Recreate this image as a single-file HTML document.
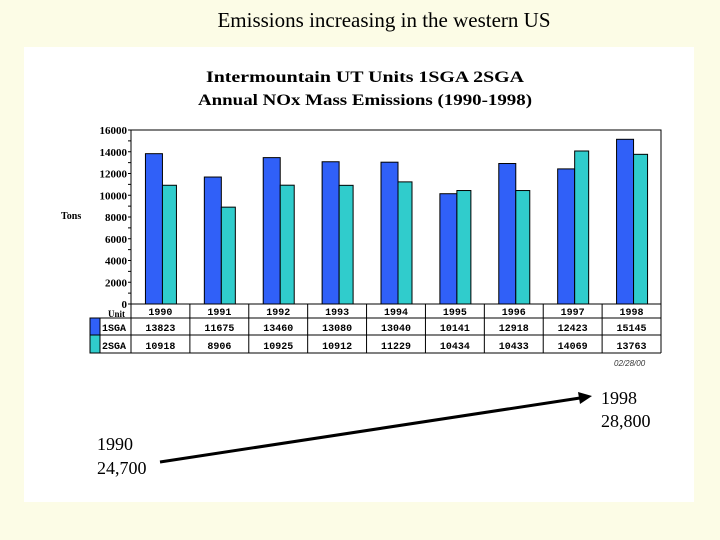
<!DOCTYPE html>
<html><head><meta charset="utf-8"><style>
html,body{margin:0;padding:0;width:720px;height:540px;background:#fcfce6;overflow:hidden}
svg{display:block}
</style></head><body>
<svg width="720" height="540" xmlns="http://www.w3.org/2000/svg">
<rect x="0" y="0" width="720" height="540" fill="#fcfce6"/>
<text x="384" y="27" text-anchor="middle" font-family="Liberation Serif, serif" font-size="21" fill="#000">Emissions increasing in the western US</text>
<rect x="24" y="47" width="670" height="455" fill="#fff"/>
<text x="365" y="82" text-anchor="middle" font-family="Liberation Serif, serif" font-weight="bold" font-size="16" textLength="318" lengthAdjust="spacingAndGlyphs">Intermountain UT Units 1SGA 2SGA</text>
<text x="365" y="105" text-anchor="middle" font-family="Liberation Serif, serif" font-weight="bold" font-size="16" textLength="334" lengthAdjust="spacingAndGlyphs">Annual NOx Mass Emissions (1990-1998)</text>
<rect x="131" y="130" width="530" height="174" fill="none" stroke="#000" stroke-width="1"/>
<text x="61" y="219" font-family="Liberation Serif, serif" font-weight="bold" font-size="10">Tons</text>
<g id="yaxis"></g>
<g id="bars"></g>
<g id="table"></g>
<text x="614" y="366" font-family="Liberation Sans, sans-serif" font-style="italic" font-size="8" fill="#333">02/28/00</text>
<line x1="160" y1="462" x2="580" y2="398" stroke="#000" stroke-width="3"/>
<polygon points="592,396 578,392 580,404" fill="#000"/>
<text x="97" y="450" font-family="Liberation Serif, serif" font-size="18">1990</text>
<text x="97" y="474" font-family="Liberation Serif, serif" font-size="18">24,700</text>
<text x="601" y="404" font-family="Liberation Serif, serif" font-size="18">1998</text>
<text x="601" y="427" font-family="Liberation Serif, serif" font-size="18">28,800</text>
</svg>
<script>
const years = ["1990","1991","1992","1993","1994","1995","1996","1997","1998"];
const sga1 = [13823,11675,13460,13080,13040,10141,12918,12423,15145];
const sga2 = [10918,8906,10925,10912,11229,10434,10433,14069,13763];
const yTicks = [0,2000,4000,6000,8000,10000,12000,14000,16000];
const NS="http://www.w3.org/2000/svg";
const X0=131,X1=661,Y0=304,Y1=130,YMAX=16000;
const n=years.length, cw=(X1-X0)/n;
function y(v){return Y0-(v/YMAX)*(Y0-Y1);}
function cx(i){return X0+cw*(i+0.5);}
function mk(tag,attrs,parent){const e=document.createElementNS(NS,tag);for(const k in attrs)e.setAttribute(k,attrs[k]);parent.appendChild(e);return e;}
const ya=document.getElementById('yaxis');
yTicks.forEach((t,i)=>{
  const tx=mk('text',{x:X0-4,y:y(t)+4,'text-anchor':'end','font-family':'Liberation Serif, serif','font-weight':'bold','font-size':'11'},ya);
  tx.textContent=t;
  
  
  const l=mk('line',{x1:X0-3,x2:X0,y1:y(t),y2:y(t),stroke:'#000'},ya);
  
  
  if(i<yTicks.length-1){
    const m=mk('line',{x1:X0-3,x2:X0,y1:y(t+1000),y2:y(t+1000),stroke:'#000'},ya);
    
    
  }
});
const bg=document.getElementById('bars');
years.forEach((yr,i)=>{
  const c=cx(i)+2;
  const b1=mk('rect',{x:c-17,y:y(sga1[i]),width:17,height:Y0-y(sga1[i]),fill:'#3060f8',stroke:'#000','stroke-width':'1'},bg);
  
  
  const b2=mk('rect',{x:c,y:y(sga2[i]),width:14,height:Y0-y(sga2[i]),fill:'#30cccc',stroke:'#000','stroke-width':'1'},bg);
  
  
});
const tb=document.getElementById('table');
mk('line',{x1:90,x2:X1,y1:318,y2:318,stroke:'#000'},tb);
mk('line',{x1:90,x2:X1,y1:335,y2:335,stroke:'#000'},tb);
mk('line',{x1:90,x2:X1,y1:353,y2:353,stroke:'#000'},tb);
mk('line',{x1:90,x2:90,y1:318,y2:353,stroke:'#000'},tb);
mk('line',{x1:X1,x2:X1,y1:304,y2:353,stroke:'#000'},tb);
for(let i=0;i<=n;i++){mk('line',{x1:X0+cw*i,x2:X0+cw*i,y1:304,y2:353,stroke:'#000'},tb);}
const sw1=mk('rect',{x:90,y:318,width:10,height:17,fill:'#3060f8',stroke:'#000'},tb);


const sw2=mk('rect',{x:90,y:335,width:10,height:18,fill:'#30cccc',stroke:'#000'},tb);


const f={'font-family':'Liberation Mono, monospace','font-weight':'bold','font-size':'10'};
function t(x,yy,s,anchor,name){const e=mk('text',Object.assign({x:x,y:yy,'text-anchor':anchor},f),tb);e.textContent=s;return e;}
t(102,331,'1SGA','start','legend-label-1sga');
t(102,349,'2SGA','start','legend-label-2sga');
const u=t(108,317,'Unit','start','unit-label');u.setAttribute('font-family','Liberation Serif, serif');u.setAttribute('font-size','9');
years.forEach((yr,i)=>{
  t(cx(i),315,yr,'middle','x-label-'+yr);
  t(cx(i),331,sga1[i],'middle','cell-1sga-'+yr);
  t(cx(i),349,sga2[i],'middle','cell-2sga-'+yr);
});
</script>
</body></html>
